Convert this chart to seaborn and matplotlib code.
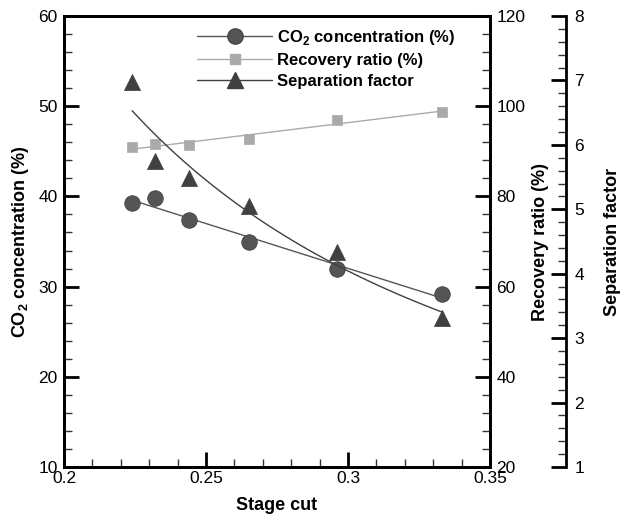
import numpy as np
import pandas as pd
import matplotlib
matplotlib.use("Agg")
import matplotlib.pyplot as plt
from matplotlib.lines import Line2D
from matplotlib.ticker import MultipleLocator
import seaborn as sns

# ---- data ----
stage_cut = [0.224, 0.232, 0.244, 0.265, 0.296, 0.333]
co2_conc = [39.3, 39.8, 37.4, 34.9, 32.0, 29.2]
recovery = [90.9, 91.6, 91.3, 92.7, 96.9, 98.8]
sep_factor = [6.97, 5.75, 5.48, 5.05, 4.34, 3.31]

x_ticks = [0.2, 0.25, 0.3, 0.35]
x_ticklabels = ["0.2", "0.25", "0.3", "0.35"]

df = pd.DataFrame({"stage_cut": stage_cut, "co2": co2_conc,
                   "recovery": recovery, "sep": sep_factor})

sns.set_style("ticks")
plt.rcParams["font.family"] = ["Liberation Sans", "DejaVu Sans"]
plt.rcParams["mathtext.fontset"] = "custom"
plt.rcParams["mathtext.rm"] = "Liberation Sans"
plt.rcParams["mathtext.bf"] = "Liberation Sans:bold"
for k in ("text.color", "axes.labelcolor", "xtick.color", "ytick.color",
          "axes.edgecolor", "xtick.labelcolor", "ytick.labelcolor"):
    plt.rcParams[k] = "black"

c_circ = "#555555"
c_sq = "#aaaaaa"
c_tri = "#404040"

fig = plt.figure(figsize=(6.25, 5.21), dpi=100)
ax = fig.add_axes([64 / 625, 1 - 467 / 521, (490 - 64) / 625, (467 - 16) / 521])
ax2 = ax.twinx()
ax3 = ax.twinx()

# CO2 concentration: linear trend + markers
sns.regplot(data=df, x="stage_cut", y="co2", ax=ax, scatter=False, ci=None,
            truncate=True, color=c_circ, line_kws={"lw": 1.0})
sns.scatterplot(data=df, x="stage_cut", y="co2", ax=ax, marker="o", s=125,
                color=c_circ, edgecolor="#444444", linewidth=0.6, zorder=5)

# Recovery ratio: linear trend + markers
sns.regplot(data=df, x="stage_cut", y="recovery", ax=ax2, scatter=False, ci=None,
            truncate=True, color=c_sq, line_kws={"lw": 1.0})
sns.scatterplot(data=df, x="stage_cut", y="recovery", ax=ax2, marker="s", s=62,
                color=c_sq, edgecolor=c_sq, linewidth=0.5, zorder=5)

# Separation factor: power-law trend + markers
b, a = np.polyfit(np.log(df["stage_cut"]), np.log(df["sep"]), 1)
xf = np.linspace(min(stage_cut), max(stage_cut), 100)
fit = pd.DataFrame({"x": xf, "y": np.exp(a) * xf ** b})
sns.lineplot(data=fit, x="x", y="y", ax=ax3, color=c_tri, lw=1.0)
sns.scatterplot(data=df, x="stage_cut", y="sep", ax=ax3, marker="^", s=135,
                color=c_tri, edgecolor=c_tri, linewidth=0.5, zorder=5)

# axes limits and ticks
ax.set_xlim(0.2, 0.35)
ax.set_ylim(10, 60)
ax2.set_ylim(20, 120)
ax3.set_ylim(1, 8)

ax.set_xticks(x_ticks)
ax.set_xticklabels(x_ticklabels)
ax.xaxis.set_minor_locator(MultipleLocator(0.01))
ax.set_yticks([10, 20, 30, 40, 50, 60])
ax.yaxis.set_minor_locator(MultipleLocator(2))
ax2.set_yticks([20, 40, 60, 80, 100, 120])
ax2.yaxis.set_minor_locator(MultipleLocator(4))
ax3.set_yticks(range(1, 9))
ax3.yaxis.set_minor_locator(MultipleLocator(0.2))

for a_ in (ax, ax2, ax3):
    a_.tick_params(which="major", direction="in", length=11, width=2,
                   labelsize=12.5, pad=4.5, color="black", labelcolor="black")
    a_.tick_params(which="minor", direction="in", length=6, width=1, color="#333333")
ax.tick_params(axis="x", which="both", top=False, pad=3)
ax.tick_params(axis="y", which="both", right=False)
ax3.tick_params(axis="y", which="major", pad=6)

for s in ax.spines.values():
    s.set_linewidth(2)
    s.set_visible(True)
    s.set_color("black")
for s in ax2.spines.values():
    s.set_linewidth(2)
    s.set_color("black")

ax3.spines["right"].set_position(("axes", (566 - 64) / (490 - 64)))
for k in ("left", "top", "bottom"):
    ax3.spines[k].set_visible(False)
ax3.spines["right"].set_linewidth(2)
ax3.spines["right"].set_color("black")

ax.set_xlabel("Stage cut", fontsize=13, fontweight="bold", labelpad=8)
ax.set_ylabel("CO$_\\mathbf{2}$ concentration (%)", fontsize=13, fontweight="bold", labelpad=5)
ax2.set_ylabel("Recovery ratio (%)", fontsize=13, fontweight="bold", labelpad=5)
ax3.set_ylabel("Separation factor", fontsize=13, fontweight="bold", labelpad=14)

# legend
handles = [
    Line2D([], [], color=c_circ, lw=1.0, marker="o", markersize=11,
           markerfacecolor=c_circ, markeredgecolor="#444444"),
    Line2D([], [], color=c_sq, lw=1.0, marker="s", markersize=7.8,
           markerfacecolor=c_sq, markeredgecolor=c_sq),
    Line2D([], [], color=c_tri, lw=1.0, marker="^", markersize=11.5,
           markerfacecolor=c_tri, markeredgecolor=c_tri),
]
labels = ["CO$_\\mathbf{2}$ concentration (%)", "Recovery ratio (%)", "Separation factor"]
fig.legend(handles, labels, loc="upper left", bbox_to_anchor=(197 / 625, 1 - 28 / 521),
           frameon=False, borderpad=0, borderaxespad=0, handlelength=4.5,
           handletextpad=0.3, labelspacing=0.36,
           prop={"weight": "bold", "size": 12})

fig.savefig("out.png", dpi=100)
